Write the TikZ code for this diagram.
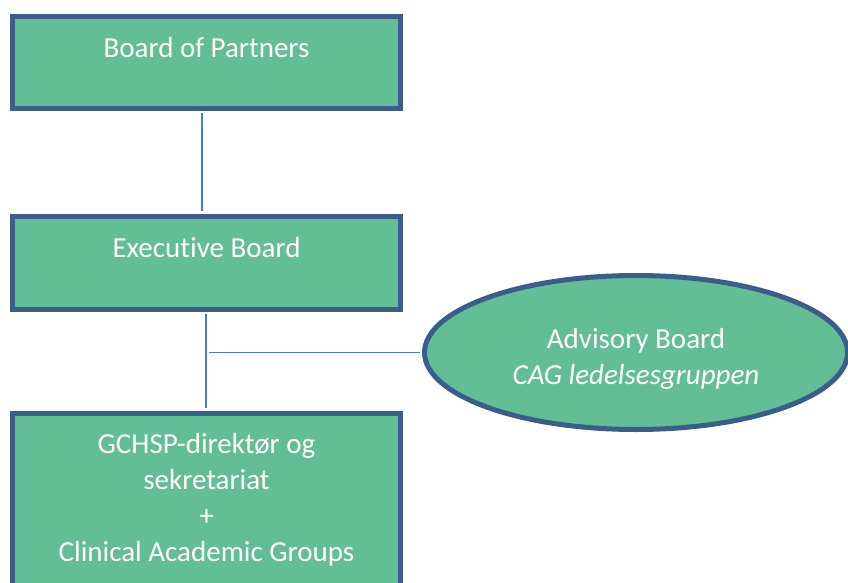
\documentclass[tikz,border=0pt]{standalone}
\usepackage{fontspec}
\setmainfont{Carlito}[Ligatures=NoCommon]
\usepackage{xcolor}
\usepackage{tikz}
\usetikzlibrary{shapes.geometric}

\definecolor{boxfill}{HTML}{63BE96}
\definecolor{boxline}{HTML}{3A5D8B}
\definecolor{linkline}{HTML}{4A7EBB}

\tikzset{
  orgbox/.style={rectangle, draw=boxline, fill=boxfill, line width=5pt, inner sep=0pt, minimum width=388pt},
  orgoval/.style={ellipse, draw=boxline, fill=boxfill, line width=5pt, inner sep=0pt},
  orgtext/.style={text=white, align=center, inner sep=0pt, anchor=base, font=\fontsize{29}{36}\selectfont},
  link/.style={draw=linkline, line width=1.8pt}
}

\begin{document}
\begin{tikzpicture}[x=1pt,y=-1pt]
  \useasboundingbox (0,0) rectangle (848,583);
  \clip (0,0) rectangle (848,583);

  \node[orgbox, minimum height=92pt] (partners) at (206.5,62.5) {};
  \node[orgbox, minimum height=93pt] (exec) at (206.5,262.5) {};
  \node[orgbox, minimum height=200pt] (gchsp) at (206.5,513) {};
  \node[orgoval, minimum width=423pt, minimum height=154pt] (advisory) at (636,352.5) {};

  % anchor=base sits on the last line
  \node[orgtext] (partnerstext) at ([yshift=-43.5pt]partners.north) {Board of Partners};
  \node[orgtext] (exectext) at ([yshift=-43.5pt]exec.north) {Executive Board};
  \node[orgtext] (gchsptext) at ([yshift=-150.5pt]gchsp.north) {GCHSP-direktør og\\sekretariat\\+\\Clinical Academic Groups};
  \node[orgtext] (advisorytext) at ([yshift=-31.5pt]advisory.center) {Advisory Board\\\textit{CAG ledelsesgruppen}};

  \coordinate (branch) at (209,352.5);
  \draw[link, shorten <=2.5pt, shorten >=2.5pt] ([xshift=-4.5pt]partners.south) -- ([xshift=-4.5pt]exec.north);
  \draw[link, shorten <=2.5pt, shorten >=2.5pt] ([xshift=-0.5pt]exec.south) -- ([xshift=-0.5pt]gchsp.north);
  \draw[link, shorten >=2.5pt] (branch) -- (advisory.west);
\end{tikzpicture}
\end{document}
